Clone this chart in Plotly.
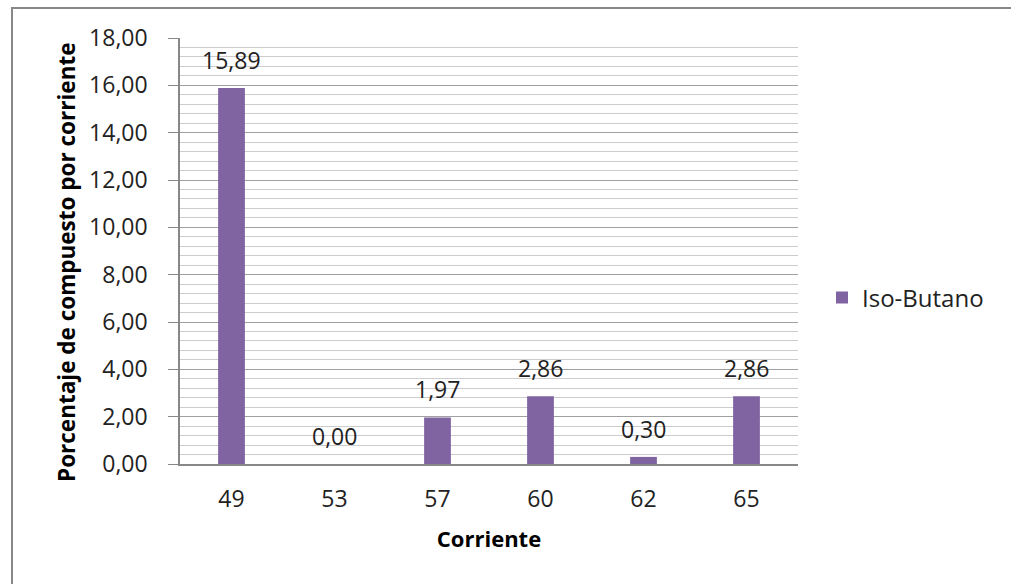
import plotly.graph_objects as go

categories = ["49", "53", "57", "60", "62", "65"]
values = [15.89, 0.00, 1.97, 2.86, 0.30, 2.86]
series_name = "Iso-Butano"
y_ticks = [0, 2, 4, 6, 8, 10, 12, 14, 16, 18]
x_title = "Corriente"
y_title = "Porcentaje de compuesto por corriente"

FONT = "Open Sans"
FS = 23
W, H = 1011, 584
L, R, T, B = 180, 213, 38, 120
pw, ph = W - L - R, H - T - B

fig = go.Figure()
fig.add_trace(go.Bar(
    x=categories, y=values, name=series_name,
    marker=dict(color="#8064A2", line=dict(width=0)),
    width=0.26, showlegend=True,
))

for i, v in enumerate(values):
    fig.add_annotation(x=i, y=v, xref="x", yref="y", text=f"{v:.2f}".replace(".", ","),
                       showarrow=False, yanchor="bottom", yshift=10,
                       font=dict(family=FONT, size=FS, color="#222"))

fig.add_annotation(x=(66 - L) / pw, y=(H - B - 263) / ph, xref="paper", yref="paper",
                   text=f"<b>{y_title}</b>", textangle=-90, showarrow=False,
                   xanchor="center", yanchor="middle",
                   font=dict(family=FONT, size=22.5, color="#000"))

# chart-area border: a large empty framed box whose right/bottom edges fall off the page
fig.add_annotation(x=(11 - L) / pw, y=(H - B - 7) / ph, xref="paper", yref="paper",
                   text=" ", showarrow=False, xanchor="left", yanchor="top",
                   width=1100, height=700, align="left", valign="top",
                   bordercolor="#888888", borderwidth=2, borderpad=0,
                   bgcolor="rgba(0,0,0,0)")

fig.update_layout(
    width=W, height=H,
    margin=dict(l=L, r=R, t=T, b=B, pad=0),
    paper_bgcolor="white", plot_bgcolor="white",
    separators=",.",
    font=dict(family=FONT, size=FS, color="#222"),
    legend=dict(x=(822 - L) / pw, y=(H - B - 298) / ph, xanchor="left", yanchor="middle",
                font=dict(family=FONT, size=24, color="#222"), bgcolor="rgba(0,0,0,0)"),
)

fig.update_xaxes(
    type="category", categoryorder="array", categoryarray=categories, range=[-0.5, 5.5],
    showline=True, linecolor="#888888", linewidth=1.5,
    ticks="", showgrid=False, tickfont=dict(family=FONT, size=FS, color="#222"),
    ticklabelstandoff=14,
    title=dict(text=f"<b>{x_title}</b>", font=dict(family=FONT, size=22, color="#000"), standoff=18),
)
fig.update_yaxes(
    range=[0, 18], tickvals=y_ticks, tickformat=".2f",
    showline=True, linecolor="#888888", linewidth=1.5,
    ticks="outside", ticklen=10, tickcolor="#888888",
    showgrid=True, gridcolor="#a0a0a0", gridwidth=1,
    minor=dict(dtick=0.4, showgrid=True, gridcolor="#cccccc", gridwidth=1),
    zeroline=False,
    tickfont=dict(family=FONT, size=FS, color="#222"),
    ticklabelstandoff=16,
)

fig.write_html("out.html", config={"displayModeBar": False})
